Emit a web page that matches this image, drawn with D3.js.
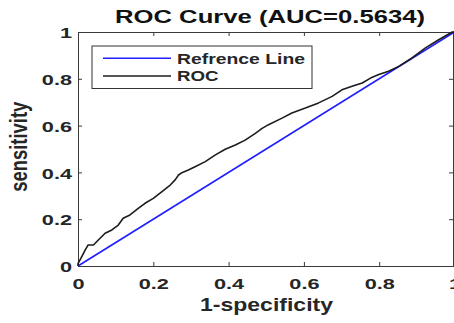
<!DOCTYPE html>
<html>
<head>
<meta charset="utf-8">
<script src="https://cdn.jsdelivr.net/npm/d3@7"></script>
<style>
  html, body { margin: 0; padding: 0; background: #fff; overflow: hidden; }
  svg { display: block; font-family: "Liberation Sans", Arial, sans-serif; }
</style>
</head>
<body>
<svg id="chart" width="454" height="323"></svg>
<script>
// ---- data ----
const titleText = "ROC Curve (AUC=0.5634)";
const xLabel = "1-specificity";
const yLabel = "sensitivity";
const legendLabels = ["Refrence Line", "ROC"];
const xTicks = [0, 0.2, 0.4, 0.6, 0.8, 1];
const yTicks = [0, 0.2, 0.4, 0.6, 0.8, 1];
const refFpr = [0, 1];
const refTpr = [0, 1];
const rocFpr = [0, 0, 0.01, 0.019, 0.027, 0.041, 0.054, 0.072, 0.09, 0.107, 0.12, 0.138, 0.16, 0.178, 0.2,
  0.223, 0.245, 0.258, 0.267, 0.276, 0.293, 0.311, 0.338, 0.364, 0.391, 0.418, 0.444, 0.471, 0.489,
  0.506, 0.542, 0.568, 0.604, 0.639, 0.675, 0.701, 0.728, 0.755, 0.777, 0.799, 0.825, 0.852, 0.887,
  0.923, 0.958, 0.994, 1];
const rocTpr = [0, 0.01, 0.04, 0.068, 0.09, 0.09, 0.111, 0.14, 0.154, 0.175, 0.204, 0.218, 0.246, 0.268, 0.289,
  0.318, 0.346, 0.368, 0.389, 0.399, 0.41, 0.424, 0.446, 0.474, 0.499, 0.517, 0.538, 0.567, 0.588,
  0.604, 0.632, 0.654, 0.675, 0.697, 0.725, 0.753, 0.768, 0.782, 0.803, 0.818, 0.832, 0.853, 0.889,
  0.932, 0.967, 1.0, 1];

// ---- layout ----
const SX = 1.4;            // horizontal stretch of text seen in the reference
const L = 78, R = 454.5, T = 32, B = 266;
const svg = d3.select("#chart");
const x = d3.scaleLinear().domain([0, 1]).range([L, R]);
const y = d3.scaleLinear().domain([0, 1]).range([B, T]);
const axisColor = "#3a3a3a";
const textColor = "#262626";
const fmt = d => d === 0 ? "0" : d === 1 ? "1" : d3.format(".1f")(d);

// axes (MATLAB style, inward ticks, box)
const gx = svg.append("g").attr("transform", `translate(0,${B})`)
  .call(d3.axisBottom(x).tickValues(xTicks).tickFormat(fmt).tickSize(-4).tickSizeOuter(0));
const gy = svg.append("g").attr("transform", `translate(${L},0)`)
  .call(d3.axisLeft(y).tickValues(yTicks).tickFormat(fmt).tickSize(-4).tickSizeOuter(0));
const gt = svg.append("g").attr("transform", `translate(0,${T})`)
  .call(d3.axisTop(x).tickValues(xTicks).tickFormat("").tickSize(-4).tickSizeOuter(0));
const gr = svg.append("g").attr("transform", `translate(${R - 1.5},0)`)
  .call(d3.axisRight(y).tickValues(yTicks).tickFormat("").tickSize(-4).tickSizeOuter(0));

[gx, gy, gt, gr].forEach(g => {
  g.selectAll("path.domain").attr("stroke", axisColor).attr("stroke-width", 1);
  g.selectAll(".tick line").attr("stroke", axisColor).attr("stroke-width", 1);
});

gx.selectAll(".tick text")
  .attr("x", 0).attr("y", 0).attr("dy", null)
  .attr("transform", `translate(0,22.5) scale(${SX},1)`)
  .attr("text-anchor", "middle")
  .attr("fill", textColor)
  .style("font-size", "15.5px").style("font-weight", "bold");

gy.selectAll(".tick text")
  .attr("x", 0).attr("y", 0).attr("dy", null)
  .attr("transform", `translate(-6,5.6) scale(${SX},1)`)
  .attr("text-anchor", "end")
  .attr("fill", textColor)
  .style("font-size", "15.5px").style("font-weight", "bold");

// lines
const line = d3.line().x(d => x(d[0])).y(d => y(d[1]));
const refData = refFpr.map((f, i) => [f, refTpr[i]]);
const rocData = rocFpr.map((f, i) => [f, rocTpr[i]]);

svg.append("path").datum(refData).attr("d", line)
  .attr("fill", "none").attr("stroke", "#1f1fff").attr("stroke-width", 1.6);
svg.append("path").datum(rocData).attr("d", line)
  .attr("fill", "none").attr("stroke", "#1c1c1c").attr("stroke-width", 1.6)
  .attr("stroke-linejoin", "round");

// title
svg.append("text").attr("x", 270).attr("y", 22.7)
  .attr("text-anchor", "middle")
  .attr("textLength", 310).attr("lengthAdjust", "spacingAndGlyphs")
  .style("font-size", "17.5px").style("font-weight", "bold").attr("fill", "#111")
  .text(titleText);

// x label
svg.append("text").attr("x", 266.5).attr("y", 311)
  .attr("text-anchor", "middle")
  .attr("textLength", 133).attr("lengthAdjust", "spacingAndGlyphs")
  .style("font-size", "18px").style("font-weight", "bold").attr("fill", textColor)
  .text(xLabel);

// y label
svg.append("text")
  .attr("transform", `translate(26.5,146.7) scale(${SX},1) rotate(-90)`)
  .attr("text-anchor", "middle")
  .attr("textLength", 90).attr("lengthAdjust", "spacingAndGlyphs")
  .style("font-size", "16.5px").style("font-weight", "bold").attr("fill", textColor)
  .text(yLabel);

// legend
const lg = svg.append("g");
lg.append("rect").attr("x", 92).attr("y", 46).attr("width", 220).attr("height", 42.5)
  .attr("fill", "#fff").attr("stroke", "#333").attr("stroke-width", 1);
const legColors = ["#1f1fff", "#1c1c1c"];
const legY = [58.3, 76];
const legLen = [128, 41.6];
legendLabels.forEach((lab, i) => {
  lg.append("line").attr("x1", 103).attr("x2", 171).attr("y1", legY[i]).attr("y2", legY[i])
    .attr("stroke", legColors[i]).attr("stroke-width", 1.6);
  lg.append("text").attr("x", 177).attr("y", legY[i] + 5.3)
    .attr("textLength", legLen[i]).attr("lengthAdjust", "spacingAndGlyphs")
    .style("font-size", "14.5px").style("font-weight", "bold").attr("fill", textColor)
    .text(lab);
});
</script>
</body>
</html>
